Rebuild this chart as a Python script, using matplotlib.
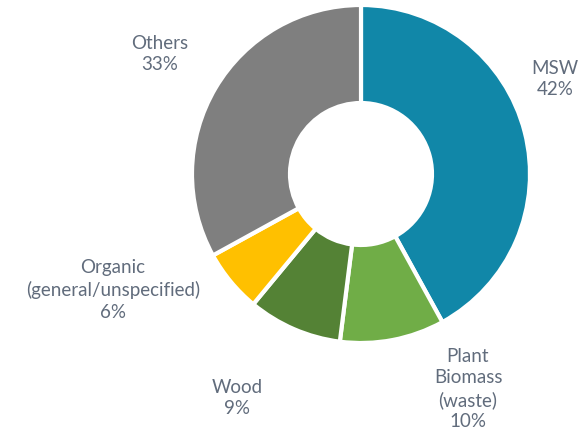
import matplotlib.pyplot as plt

# share of feedstock by type
labels = ['MSW', 'Plant\nBiomass\n(waste)', 'Wood', 'Organic\n(general/unspecified)', 'Others']
shares = [42, 10, 9, 6, 33]
colors = ['#1187A8', '#70AD47', '#548235', '#FFC000', '#7F7F7F']

# label anchor positions (figure pixels, y from top)
label_xy = [(555, 79), (468, 389), (237, 398), (113, 290), (160, 54)]

text_color = '#616C7C'

fig = plt.figure(figsize=(5.87, 4.32), dpi=100, facecolor='white')
ax = fig.add_axes([0, 0, 1, 1])

outer_r = 169
hole_r = 71
wedges, _ = ax.pie(shares, colors=colors, startangle=90, counterclock=False,
                   center=(361, 432 - 174), radius=outer_r, frame=True,
                   wedgeprops=dict(width=outer_r - hole_r, edgecolor='white', linewidth=3))

ax.set_xlim(0, 587)
ax.set_ylim(0, 432)
ax.set_aspect('equal')
ax.set_axis_off()

for lab, val, (x, y) in zip(labels, shares, label_xy):
    ax.text(x, 432 - y, f"{lab}\n{val}%", ha='center', va='center',
            fontsize=13.5, color=text_color, family='Lato', fontweight='normal',
            linespacing=1.32)

fig.savefig('out.png', dpi=100, facecolor='white')
